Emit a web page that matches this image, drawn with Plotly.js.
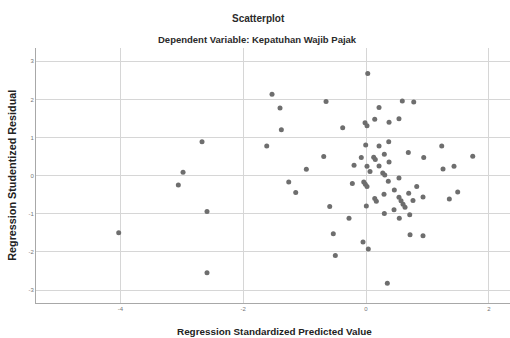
<!DOCTYPE html>
<html>
<head>
<meta charset="utf-8">
<script src="https://cdn.plot.ly/plotly-3.0.1.min.js"></script>
<style>html,body{margin:0;padding:0;background:#fff;}#chart{width:510px;height:338px;}</style>
</head>
<body>
<div id="chart"></div>
<script>
// Regression Standardized Predicted Value
const predicted = [
  -1.531,-1.401,-1.379,-2.671,-1.617,-2.980,-3.057,-1.259,-2.590,-4.028,-2.590,-1.145,
  0.028,-0.651,0.591,0.777,0.212,0.142,0.537,0.375,-0.016,0.016,-0.380,
  0.370,-0.005,0.212,1.233,0.689,0.298,-0.689,-0.077,0.125,0.151,0.940,1.738,
  0.375,-0.195,0.016,0.212,1.433,-0.972,1.254,0.065,0.272,0.305,0.537,
  -0.037,-0.011,0.016,-0.223,0.363,0.826,0.461,0.695,0.293,1.493,0.928,0.537,
  0.142,0.168,0.570,0.765,1.357,0.603,0.635,-0.591,0.005,0.456,0.298,0.712,
  -0.277,0.542,-0.533,0.717,0.928,-0.049,0.037,-0.500,0.347
];
// Regression Studentized Residual
const residual = [
  2.141,1.775,1.209,0.895,0.780,0.092,-0.241,-0.162,-0.937,-1.497,-2.545,-0.440,
  2.683,1.950,1.958,1.932,1.793,1.479,1.497,1.401,1.393,1.314,1.262,
  0.895,0.806,0.780,0.780,0.607,0.563,0.503,0.476,0.484,0.424,0.476,0.510,
  0.361,0.275,0.249,0.257,0.249,0.170,0.178,0.110,0.073,0.021,-0.058,
  -0.162,-0.223,-0.283,-0.204,-0.144,-0.283,-0.372,-0.458,-0.484,-0.424,-0.555,-0.563,
  -0.597,-0.668,-0.654,-0.649,-0.607,-0.746,-0.825,-0.806,-0.791,-0.895,-0.990,-1.026,
  -1.113,-1.113,-1.524,-1.550,-1.576,-1.741,-1.924,-2.089,-2.822
];
const xTickVals = [-4, -2, 0, 2];
const xTickText = ["-4", "-2", "0", "2"];
const yTickVals = [-3, -2, -1, 0, 1, 2, 3];
const yTickText = ["-3", "-2", "-1", "0", "1", "2", "3"];
const chartTitle = "Scatterplot";
const chartSubtitle = "Dependent Variable: Kepatuhan Wajib Pajak";
const xTitle = "Regression Standardized Predicted Value";
const yTitle = "Regression Studentized Residual";

const font = "Liberation Sans, Arial, sans-serif";
const trace = {
  x: predicted, y: residual, type: "scatter", mode: "markers",
  marker: {color: "#6e6e6e", size: 5, line: {width: 0}},
  hoverinfo: "none"
};
const layout = {
  width: 510, height: 338,
  margin: {l: 36, r: 0, t: 47.5, b: 35, pad: 0},
  paper_bgcolor: "#ffffff", plot_bgcolor: "#ffffff",
  showlegend: false,
  font: {family: font, color: "#333"},
  xaxis: {
    range: [-5.375, 2.345], tickvals: xTickVals, ticktext: xTickText,
    showgrid: true, gridcolor: "#d6d6d6", gridwidth: 1, zeroline: false,
    showline: true, linecolor: "#a8a8a8", linewidth: 1, ticks: "",
    tickfont: {size: 6, color: "#777", family: font},
    fixedrange: true
  },
  yaxis: {
    range: [-3.338, 3.351], tickvals: yTickVals, ticktext: yTickText,
    showgrid: true, gridcolor: "#d6d6d6", gridwidth: 1, zeroline: false,
    showline: true, linecolor: "#a8a8a8", linewidth: 1, ticks: "",
    tickfont: {size: 6, color: "#777", family: font},
    fixedrange: true
  },
  annotations: [
    {text: "<b>" + chartTitle + "</b>", xref: "paper", yref: "paper",
     x: (258-36)/474, y: 1 + (47.5-18)/255.5, xanchor: "center", yanchor: "middle",
     showarrow: false, font: {size: 10, color: "#2a2a2a", family: font}},
    {text: "<b>" + chartSubtitle + "</b>", xref: "paper", yref: "paper",
     x: (257-36)/474, y: 1 + (47.5-39)/255.5, xanchor: "center", yanchor: "middle",
     showarrow: false, font: {size: 9.5, color: "#2a2a2a", family: font}},
    {text: "<b>" + xTitle + "</b>", xref: "paper", yref: "paper",
     x: (274.5-36)/474, y: -(332-303)/255.5, xanchor: "center", yanchor: "middle",
     showarrow: false, font: {size: 9.9, color: "#222", family: font}},
    {text: "<b>" + yTitle + "</b>", xref: "paper", yref: "paper",
     x: -(36-12.5)/474, y: (303-175)/255.5, xanchor: "center", yanchor: "middle",
     textangle: -90, showarrow: false, font: {size: 10.8, color: "#222", family: font}}
  ]
};
Plotly.newPlot("chart", [trace], layout, {displayModeBar: false, staticPlot: true});
</script>
</body>
</html>
